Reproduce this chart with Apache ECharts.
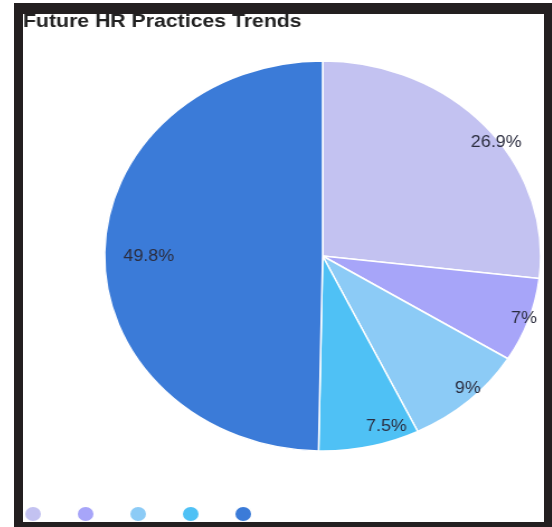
<!DOCTYPE html>
<html>
<head>
<meta charset="utf-8">
<title>Future HR Practices Trends</title>
<script src="https://cdn.jsdelivr.net/npm/echarts@6/dist/echarts.min.js"></script>
<style>
  html, body { margin: 0; padding: 0; background: #ffffff; width: 552px; height: 527px; overflow: hidden; }
  #frame { position: absolute; left: 14px; top: 3px; width: 538px; height: 524px; background: #231f20; }
  #panel { position: absolute; left: 23px; top: 14px; width: 521px; height: 508px; background: #ffffff; overflow: hidden; }
  /* the chart is drawn narrower and widened horizontally, giving an oval pie */
  #chart { position: absolute; left: 0; top: 0; width: 466px; height: 508px; transform-origin: 0 0; transform: scaleX(1.118); }
</style>
</head>
<body>
<div id="frame"></div>
<div id="panel"><div id="chart"></div></div>
<script>
// Share of each trend, in percent, clockwise from 12 o'clock
const categories = ['Trend 1', 'Trend 2', 'Trend 3', 'Trend 4', 'Trend 5'];
const shares = [26.9, 7, 9, 7.5, 49.8];
const colors = ['#c3c2f1', '#a7a5f9', '#8ccbf6', '#4fc1f5', '#3b7bd8'];

const R = 195;
const CENTER = [268, 242];

// small label nudges so each percentage sits clear of the slice edges
const labelNudge = [[16, 11], [4, 1], [5, -6], [17, -12], [4, 2]];

const pieData = categories.map((name, i) => ({ name: name, value: shares[i] }));

// largest slice gets its label further in than the rest
const largest = shares.indexOf(Math.max(...shares));

function labelSeries(inner, pick) {
  return {
    type: 'pie',
    center: CENTER,
    radius: [inner, R],
    startAngle: 90,
    silent: true,
    legendHoverLink: false,
    itemStyle: { color: 'rgba(0,0,0,0)', borderWidth: 0 },
    emphasis: { disabled: true },
    tooltip: { show: false },
    label: {
      show: true,
      position: 'inside',
      color: '#2b2d3f',
      fontFamily: 'Liberation Sans, Arial, sans-serif',
      fontSize: 16,
      formatter: (p) => (pick(p.dataIndex) ? p.value + '%' : '')
    },
    labelLayout: (p) => ({ dx: labelNudge[p.dataIndex][0], dy: labelNudge[p.dataIndex][1] }),
    labelLine: { show: false },
    data: pieData
  };
}

const chart = echarts.init(document.getElementById('chart'), null, { renderer: 'canvas' });
chart.setOption({
  animation: false,
  color: colors,
  title: {
    text: 'Future HR Practices Trends',
    left: 0,
    top: -2,
    padding: 0,
    textStyle: { fontFamily: 'Liberation Sans, Arial, sans-serif', fontSize: 19, fontWeight: 'bold', color: '#222222' }
  },
  legend: {
    left: 0,
    top: 491,
    padding: 0,
    icon: 'circle',
    itemWidth: 16,
    itemHeight: 16,
    itemGap: 29,
    formatter: () => '',
    data: categories
  },
  series: [
    {
      type: 'pie',
      center: CENTER,
      radius: [0, R],
      startAngle: 90,
      itemStyle: { borderColor: '#ffffff', borderWidth: 1.5 },
      label: { show: false },
      labelLine: { show: false },
      data: pieData
    },
    labelSeries(172, (i) => i !== largest),
    labelSeries(118, (i) => i === largest)
  ]
});
</script>
</body>
</html>
